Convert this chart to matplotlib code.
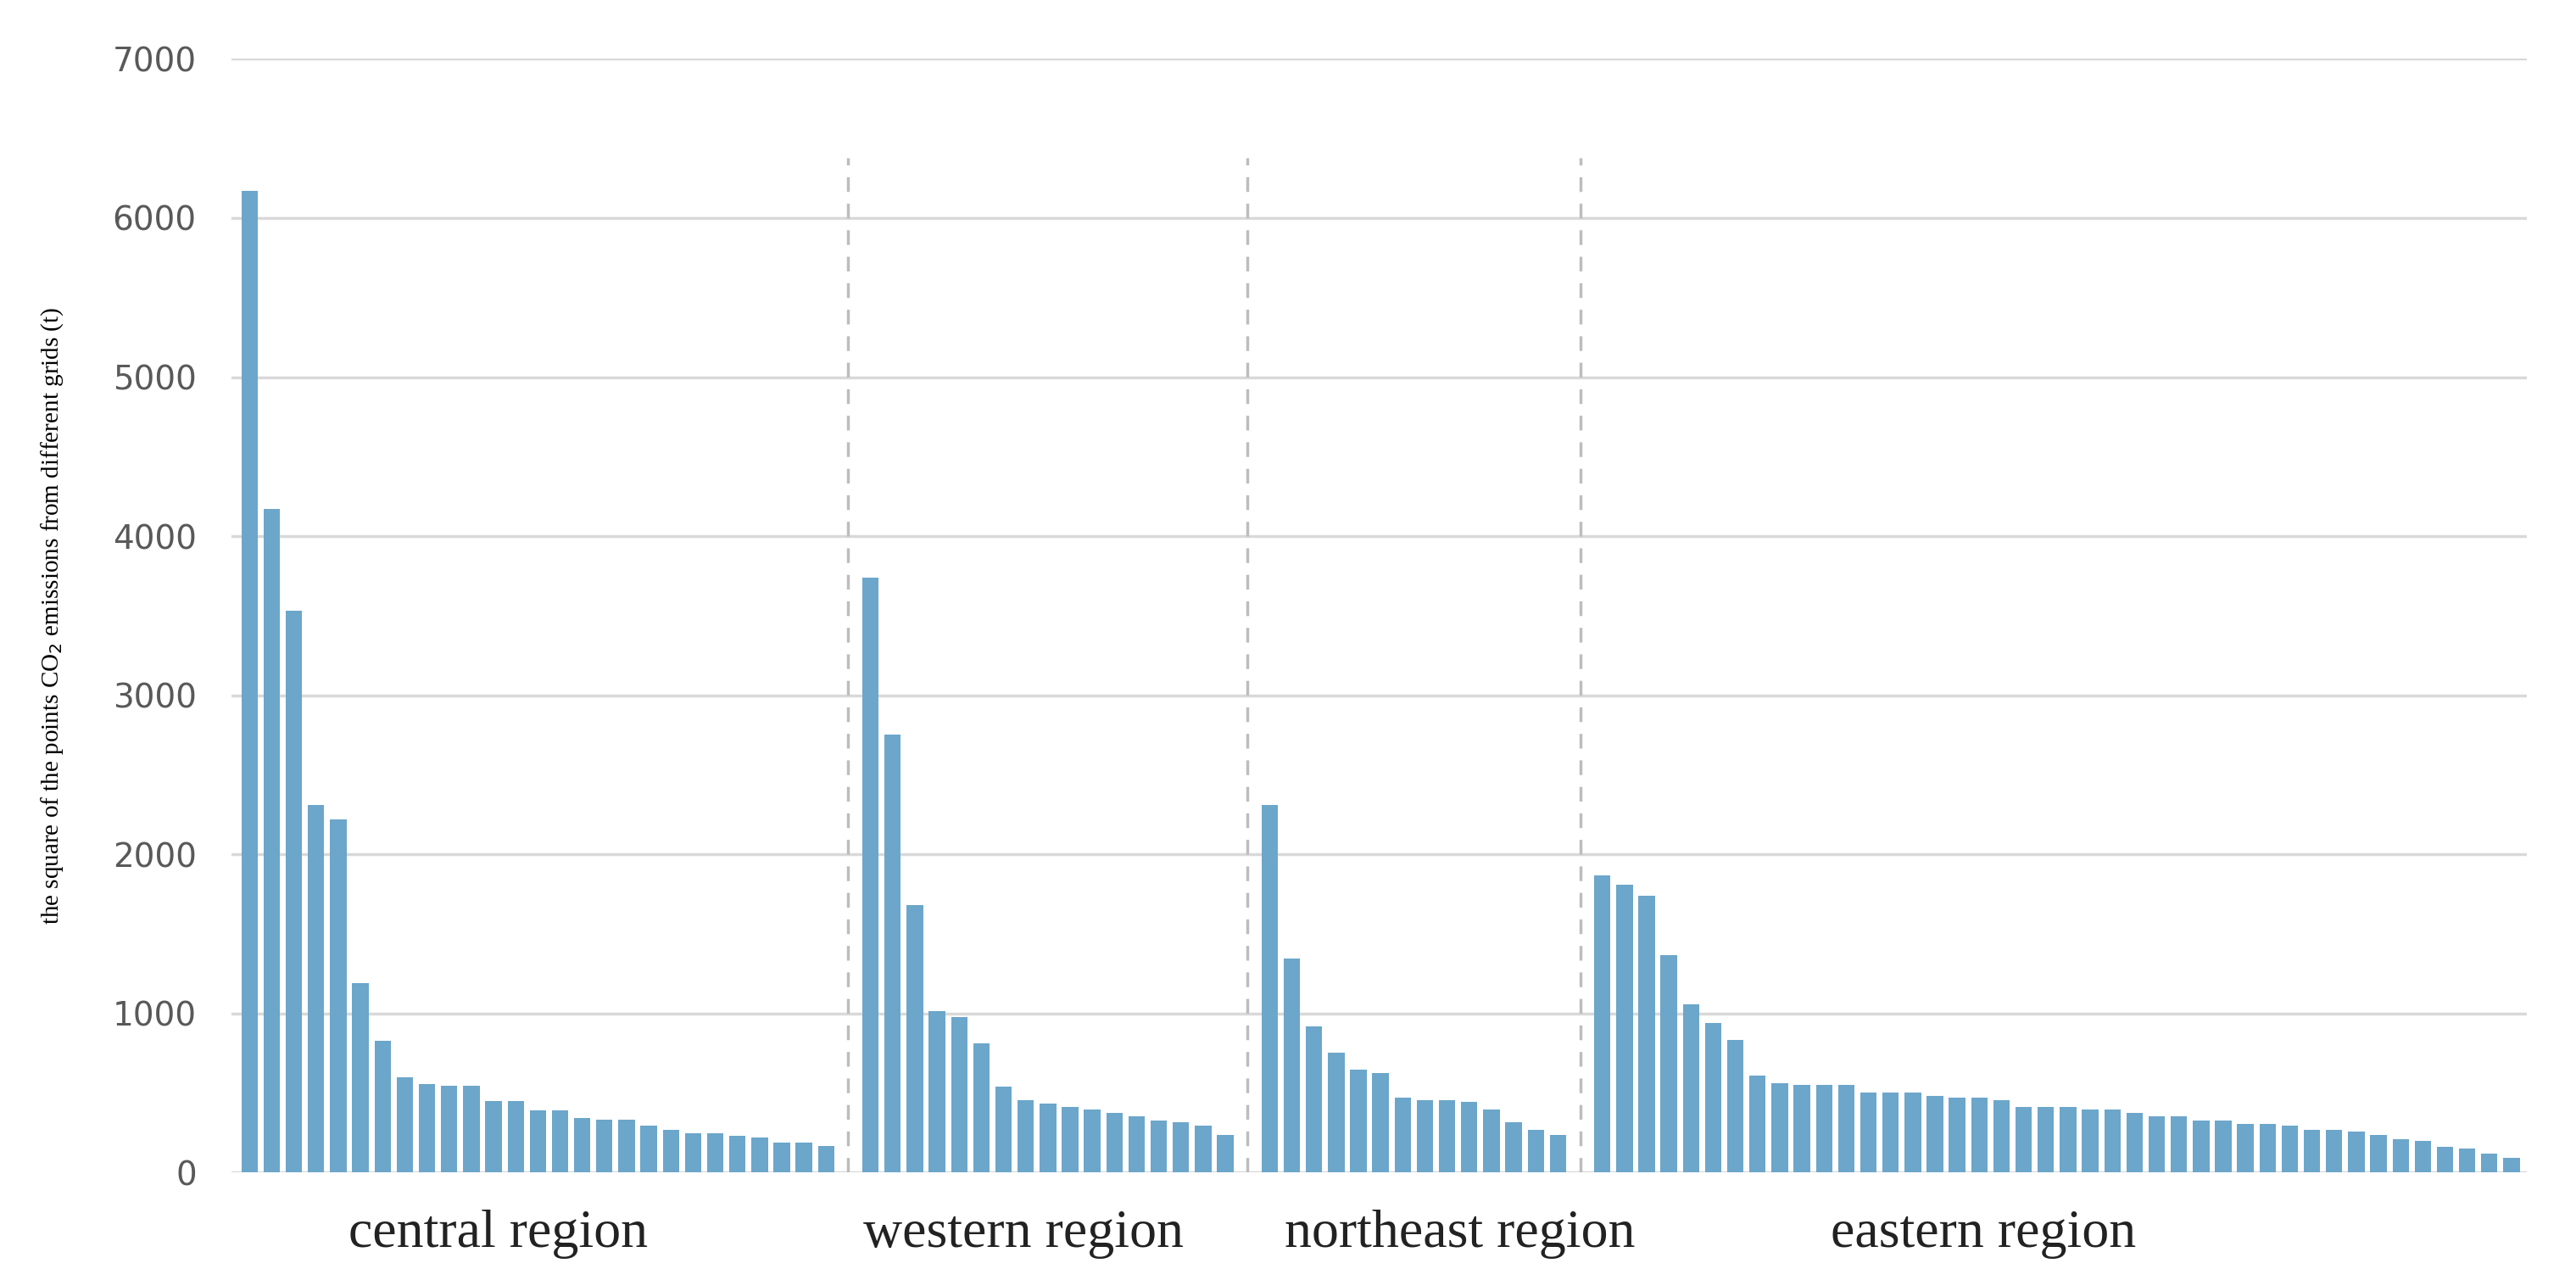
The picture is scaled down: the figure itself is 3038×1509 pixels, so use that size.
import matplotlib.pyplot as plt
import numpy as np

regions = ["central region", "western region", "northeast region", "eastern region"]
central = [6170, 4170, 3530, 2310, 2220, 1190, 830, 600, 555, 545, 545, 450, 450, 390, 390,
           340, 330, 330, 295, 270, 245, 245, 232, 220, 190, 190, 165]
western = [3740, 2750, 1680, 1012, 975, 811, 539, 457, 434, 411, 398, 373, 352, 327, 316, 293, 234]
northeast = [2310, 1343, 916, 752, 646, 623, 470, 457, 457, 446, 398, 316, 270, 234]
eastern = [1870, 1810, 1740, 1364, 1059, 941, 834, 611, 562, 552, 552, 552, 505, 505, 505,
           480, 470, 470, 457, 411, 411, 411, 398, 398, 373, 352, 352, 327, 327, 304, 304,
           293, 270, 270, 257, 234, 211, 198, 162, 152, 116, 93]
groups = [central, western, northeast, eastern]
label_x = [0.116, 0.345, 0.535, 0.763]

fig = plt.figure(figsize=(30.38, 15.09), dpi=100)
ax = fig.add_axes([0.090, 0.084, 0.891, 0.870])

pos = 0
seps = []
for i, g in enumerate(groups):
    x = np.arange(pos, pos + len(g))
    ax.bar(x, g, width=0.74, color="#6ca6ca", zorder=3)
    pos += len(g)
    if i < len(groups) - 1:
        seps.append(pos)
        pos += 1

for s in seps:
    ax.plot([s, s], [0, 6380], color="#bdbdbd", linestyle=(0, (5, 4)), linewidth=2.5, zorder=2)

ax.set_xlim(-0.8, pos - 0.3)
ax.set_ylim(0, 7000)
ax.set_yticks(range(0, 7001, 1000))
ax.yaxis.grid(True, color="#d9d9d9", linewidth=2.5, zorder=0)
ax.set_xticks([])
for sp in ax.spines.values():
    sp.set_visible(False)
ax.tick_params(axis="y", length=0, labelsize=28, labelcolor="#595959", pad=30)
ax.set_ylabel("the square of the points CO$_2$ emissions from different grids (t)",
              family="Liberation Serif", fontsize=21, labelpad=40)

for name, lx in zip(regions, label_x):
    fig.text(0.090 + lx * 0.891, 0.036, name, family="Liberation Serif", fontsize=46,
             ha="center", va="center", color="#222222")

fig.savefig("out.png", dpi=100)
